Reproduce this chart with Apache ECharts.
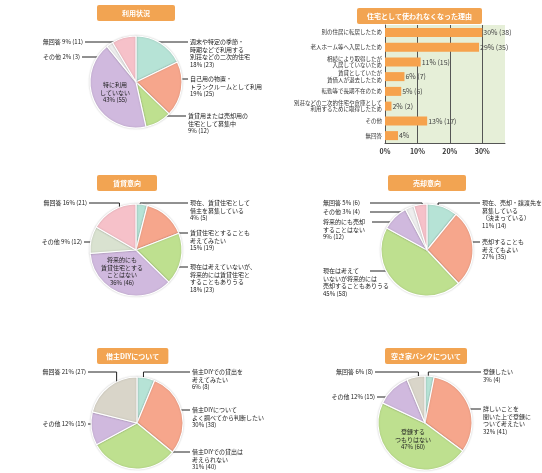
<!DOCTYPE html>
<html>
<head>
<meta charset="utf-8">
<script src="https://cdn.jsdelivr.net/npm/echarts@6/dist/echarts.min.js"></script>
<style>
  html, body { margin: 0; padding: 0; background: #fff; }
  #main { width: 542px; height: 473px; }
</style>
</head>
<body>
<div id="main"></div>
<script>
const FONT = '"Noto Sans CJK JP", "Noto Sans", sans-serif';

// 利用状況
const useNames = ['週末や特定の季節・\n時期などで利用する\n別荘などの二次的住宅', '自己用の物置・\nトランクルームとして利用', '賃貸用または売却用の\n住宅として募集中', '特に利用\nしていない', 'その他', '無回答'];
const useCounts = [23, 25, 12, 55, 3, 11];
const usePct = [18, 19, 9, 43, 2, 9];

// 住宅として使われなくなった理由
const reasonNames = ['別の住居に転居したため', '老人ホーム等へ入居したため', '相続により取得したが\n入居していないため', '賃貸としていたが\n賃借人が退去したため', '転勤等で長期不在のため', '別荘などの二次的住宅や倉庫として\n利用するために取得したため', 'その他', '無回答'];
const reasonPct = [30, 29, 11, 6, 5, 2, 13, 4];
const reasonCounts = [38, 35, 15, 7, 6, 2, 17, null];
const reasonTicks = ['0%', '10%', '20%', '30%'];

// 賃貸意向
const rentNames = ['現在、賃貸住宅として\n借主を募集している', '賃貸住宅とすることも\n考えてみたい', '現在は考えていないが、\n将来的には賃貸住宅と\nすることもありうる', '将来的にも\n賃貸住宅とする\nことはない', 'その他', '無回答'];
const rentCounts = [5, 19, 23, 46, 12, 21];
const rentPct = [4, 15, 18, 36, 9, 16];

// 売却意向
const saleNames = ['現在、売却・譲渡先を\n募集している\n（決まっている）', '売却することも\n考えてもよい', '現在は考えて\nいないが将来的には\n売却することもありうる', '将来的にも売却\nすることはない', 'その他', '無回答'];
const saleCounts = [14, 35, 58, 12, 4, 6];
const salePct = [11, 27, 45, 9, 3, 5];

// 借主DIYについて
const diyNames = ['借主DIYでの貸出を\n考えてみたい', '借主DIYについて\nよく調べてから判断したい', '借主DIYでの貸出は\n考えられない', 'その他', '無回答'];
const diyCounts = [8, 38, 40, 15, 27];
const diyPct = [6, 30, 31, 12, 21];

// 空き家バンクについて
const bankNames = ['登録したい', '詳しいことを\n聞いた上で登録に\nついて考えたい', '登録する\nつもりはない', 'その他', '無回答'];
const bankCounts = [4, 41, 60, 15, 8];
const bankPct = [3, 32, 47, 12, 6];

// 色
const C_TEAL = '#b6e3d6', C_SALMON = '#f6a68c', C_GREEN = '#bee08f', C_LAV = '#d0b9de',
      C_PINK = '#f6c1c9', C_WHITE = '#eeeeee', C_GRAYGREEN = '#d9e2d0', C_BEIGE = '#d9d5c9';

// レイアウト (ラベル位置: x, y は1行目の中心)
const pies = [
  { names: useNames, counts: useCounts, pct: usePct, center: [136, 82], r: 46,
    colors: [C_TEAL, C_SALMON, C_GREEN, C_LAV, C_WHITE, C_PINK],
    labels: [
      { x: 190, y: 42, align: 'left' },
      { x: 190, y: 79, align: 'left' },
      { x: 188, y: 116, align: 'left' },
      { x: 115, y: 85, inside: true },
      { x: 80, y: 57, align: 'right', inline: true },
      { x: 83, y: 42, align: 'right', inline: true }
    ] },
  { names: rentNames, counts: rentCounts, pct: rentPct, center: [136, 250], r: 46,
    colors: [C_TEAL, C_SALMON, C_GREEN, C_LAV, C_GRAYGREEN, C_PINK],
    labels: [
      { x: 190, y: 203, align: 'left' },
      { x: 190, y: 233, align: 'left' },
      { x: 190, y: 267, align: 'left' },
      { x: 122, y: 260, inside: true },
      { x: 82, y: 242, align: 'right', inline: true },
      { x: 87, y: 203, align: 'right', inline: true }
    ] },
  { names: saleNames, counts: saleCounts, pct: salePct, center: [427, 250], r: 46,
    colors: [C_TEAL, C_SALMON, C_GREEN, C_LAV, C_WHITE, C_PINK],
    labels: [
      { x: 482, y: 203, align: 'left' },
      { x: 482, y: 242, align: 'left' },
      { x: 323, y: 271, align: 'left', lx: 370 },
      { x: 323, y: 222, align: 'left', lx: 372 },
      { x: 323, y: 212, align: 'left', inline: true, lx: 370 },
      { x: 323, y: 203, align: 'left', inline: true, lx: 370 }
    ] },
  { names: diyNames, counts: diyCounts, pct: diyPct, center: [137, 423], r: 46,
    colors: [C_TEAL, C_SALMON, C_GREEN, C_LAV, C_BEIGE],
    labels: [
      { x: 192, y: 372, align: 'left' },
      { x: 192, y: 410, align: 'left' },
      { x: 192, y: 452, align: 'left' },
      { x: 86, y: 424, align: 'right', inline: true },
      { x: 86, y: 372, align: 'right', inline: true }
    ] },
  { names: bankNames, counts: bankCounts, pct: bankPct, center: [425, 423], r: 47,
    colors: [C_TEAL, C_SALMON, C_GREEN, C_LAV, C_BEIGE],
    labels: [
      { x: 483, y: 372, align: 'left' },
      { x: 483, y: 409, align: 'left' },
      { x: 413, y: 432, inside: true },
      { x: 375, y: 397, align: 'right', inline: true },
      { x: 373, y: 372, align: 'right', inline: true }
    ] }
];

const titles = [
  { text: '利用状況', left: 97, top: 5, pad: 25 },
  { text: '住宅として使われなくなった理由', left: 357, top: 8, pad: 10 },
  { text: '賃貸意向', left: 97, top: 175, pad: 16 },
  { text: '売却意向', left: 388, top: 175, pad: 25 },
  { text: '借主DIYについて', left: 97, top: 348, pad: 9 },
  { text: '空き家バンクについて', left: 385, top: 348, pad: 6 }
];

const LH = 7.5;

function makeLayout(cfg) {
  const total = cfg.counts.reduce((a, b) => a + b, 0);
  const mids = [];
  let acc = 0;
  cfg.counts.forEach(v => { mids.push((acc + v / 2) / total * Math.PI * 2); acc += v; });
  return function (p) {
    const L = cfg.labels[p.dataIndex];
    if (L.inside) {
      return { x: L.x, y: L.y - LH / 2, align: 'center', verticalAlign: 'top' };
    }
    const a = mids[p.dataIndex];
    const k = 0.72 * cfg.r;
    const px = cfg.center[0] + Math.sin(a) * k;
    const py = cfg.center[1] - Math.cos(a) * k;
    const lx = L.lx != null ? L.lx : (L.align === 'left' ? L.x - 2 : L.x + 2);
    return {
      x: L.x, y: L.y - LH / 2, align: L.align, verticalAlign: 'top',
      labelLinePoints: [[px, py], [px, L.y], [lx, L.y]]
    };
  };
}

function pieSeries(cfg) {
  return {
    type: 'pie',
    center: cfg.center,
    radius: cfg.r,
    startAngle: 90,
    clockwise: true,
    avoidLabelOverlap: false,
    silent: true,
    itemStyle: { borderColor: '#fff', borderWidth: 1.2, shadowBlur: 2, shadowColor: 'rgba(0,0,0,0.18)' },
    label: { show: true, position: 'outside', overflow: 'none', bleedMargin: 0,
             fontSize: 6, lineHeight: LH, color: '#222', fontFamily: FONT },
    labelLine: { show: true, lineStyle: { color: '#222', width: 1 } },
    labelLayout: makeLayout(cfg),
    data: cfg.names.map((n, i) => {
      const L = cfg.labels[i];
      const tail = cfg.pct[i] + '% (' + cfg.counts[i] + ')';
      const item = {
        name: n,
        value: cfg.counts[i],
        itemStyle: { color: cfg.colors[i] },
        label: { formatter: L.inline ? n + ' ' + tail : n + '\n' + tail }
      };
      if (L.inside) {
        item.label.position = 'inside';
        item.label.align = 'center';
        item.labelLine = { show: false };
      }
      return item;
    })
  };
}

const chart = echarts.init(document.getElementById('main'), null, { renderer: 'canvas' });

const option = {
  animation: false,
  backgroundColor: '#fff',
  textStyle: { fontFamily: FONT },
  title: titles.map(t => ({
    text: t.text, left: t.left, top: t.top,
    backgroundColor: '#f2a452', borderRadius: 2, padding: [4, t.pad],
    textStyle: { color: '#fff', fontSize: 7, fontWeight: 'bold', fontFamily: FONT, lineHeight: 8 }
  })),
  grid: {
    left: 385, top: 25, width: 120, height: 118,
    show: true, backgroundColor: '#e6efd8', borderWidth: 0, containLabel: false
  },
  xAxis: {
    type: 'value', min: 0, max: 37, interval: 10,
    axisLabel: {
      formatter: v => (v % 10 === 0 ? reasonTicks[v / 10] : ''),
      fontSize: 7, fontWeight: 'bold', color: '#333', margin: 5, fontFamily: FONT
    },
    axisLine: { show: true, lineStyle: { color: '#555' } },
    axisTick: { show: false },
    splitLine: { show: true, showMaxLine: false, lineStyle: { color: '#555', width: 1 } }
  },
  yAxis: {
    type: 'category', inverse: true, data: reasonNames,
    axisLabel: { fontSize: 5.5, lineHeight: 6.5, color: '#333', margin: 3, fontFamily: FONT },
    axisLine: { show: true, lineStyle: { color: '#555' } },
    axisTick: { show: false }
  },
  series: [
    {
      type: 'bar',
      data: reasonPct,
      barWidth: 9,
      silent: true,
      itemStyle: { color: '#f6a24d' },
      label: {
        show: true, position: 'right', distance: 1,
        fontSize: 7, color: '#444', fontFamily: FONT,
        formatter: p => reasonCounts[p.dataIndex] == null
          ? reasonPct[p.dataIndex] + '%'
          : reasonPct[p.dataIndex] + '% (' + reasonCounts[p.dataIndex] + ')'
      }
    }
  ].concat(pies.map(pieSeries))
};

chart.setOption(option);
</script>
</body>
</html>
